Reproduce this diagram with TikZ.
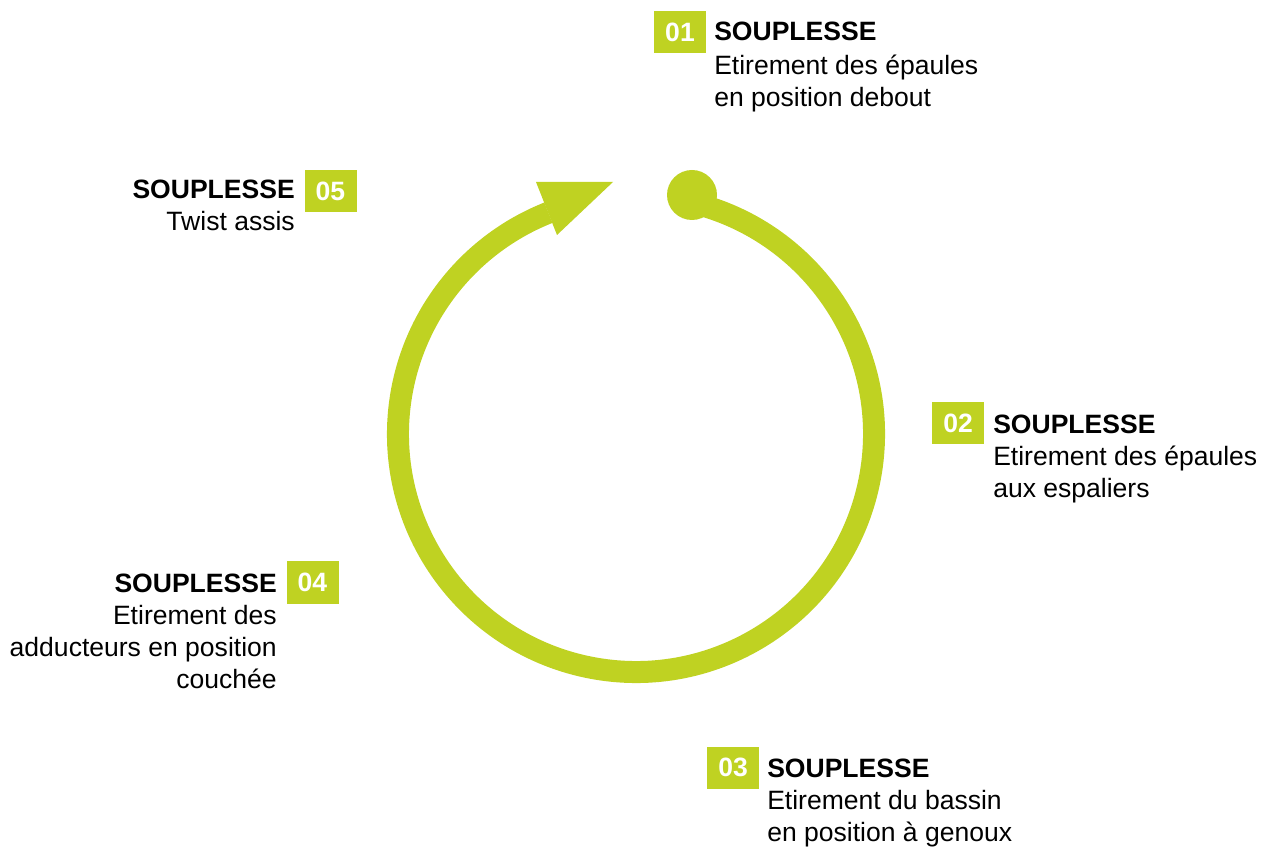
\documentclass[tikz,border=0pt]{standalone}
\usepackage{fontspec}
\setmainfont{Liberation Sans}
\usetikzlibrary{positioning}
\definecolor{lime}{RGB}{191,210,34}

\begin{document}
\begin{tikzpicture}[x=0.75pt, y=-0.75pt,
    font=\fontsize{19.9pt}{24pt}\selectfont,
    numbox/.style={fill=lime, text=white, font=\fontsize{19.9pt}{24pt}\selectfont\bfseries,
        minimum width=39pt, minimum height=31.5pt, inner sep=0pt},
    title/.style={font=\fontsize{19.9pt}{24pt}\selectfont\bfseries, inner sep=0pt},
    desc/.style={inner sep=0pt},
    ring/.style={draw=lime, line width=16.5pt}]
    \useasboundingbox (0,0) rectangle (1261,848);

    % cycle
    \coordinate (ctr) at (636,434);
    \node [circle, fill=lime, minimum size=37.5pt, inner sep=0pt] (start) at (692,195) {};
    \draw [ring] (ctr) ++(77:178.5pt) arc [start angle=77, end angle=-248.4, radius=178.5pt];
    \fill [lime] (536,182) coordinate (tipA) -- (613,182) coordinate (tip) -- (557,235) coordinate (tipB) -- cycle;

    % step 01 (multi-line nodes: base = last line)
    \node [numbox] (num1) at (680,32) {01};
    \node [title, anchor=base west] (title1) at (714,41) {SOUPLESSE};
    \node [desc, align=left, anchor=base west] (desc1) at (714,107) {Etirement des épaules\\en position debout};

    % step 02
    \node [numbox] (num2) at (958,423.5) {02};
    \node [title, anchor=base west] (title2) at (993,434) {SOUPLESSE};
    \node [desc, align=left, anchor=base west] (desc2) at (993,498) {Etirement des épaules\\aux espaliers};

    % step 03
    \node [numbox] (num3) at (733,767.5) {03};
    \node [title, anchor=base west] (title3) at (767,777) {SOUPLESSE};
    \node [desc, align=left, anchor=base west] (desc3) at (767,841) {Etirement du bassin\\en position à genoux};

    % step 04
    \node [numbox] (num4) at (312.5,582.5) {04};
    \node [title, anchor=base east] (title4) at (277,592) {SOUPLESSE};
    \node [desc, align=right, anchor=base east] (desc4) at (277,688) {Etirement des\\adducteurs en position\\couchée};

    % step 05
    \node [numbox] (num5) at (330.5,191) {05};
    \node [title, anchor=base east] (title5) at (295,199) {SOUPLESSE};
    \node [desc, align=right, anchor=base east] (desc5) at (295,231) {Twist assis};
\end{tikzpicture}
\end{document}
